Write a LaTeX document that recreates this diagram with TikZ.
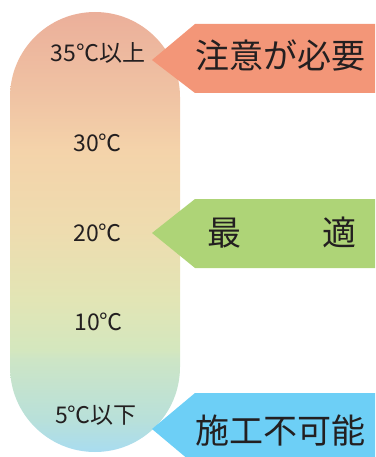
\documentclass[tikz,border=0pt]{standalone}
\usepackage{fontspec}
\newfontfamily\jp{Noto Sans CJK JP}
\definecolor{txt}{HTML}{231F20}
\definecolor{redb}{HTML}{F39678}
\definecolor{greenb}{HTML}{AED477}
\definecolor{blueb}{HTML}{6DCFF6}
\definecolor{c1}{HTML}{A8DCF0}
\definecolor{c2}{HTML}{B8E0DA}
\definecolor{c3}{HTML}{CDE5C6}
\definecolor{c4}{HTML}{D4E7BE}
\definecolor{c5}{HTML}{E2E5B5}
\definecolor{c6}{HTML}{EEDCAF}
\definecolor{c7}{HTML}{F4D3AA}
\definecolor{c8}{HTML}{F0C4A4}
\definecolor{c9}{HTML}{EBAF9A}
\pgfdeclareverticalshading{thermo}{100bp}{color(0bp)=(c1); color(25bp)=(c1); color(28.6bp)=(c2); color(35.5bp)=(c3); color(36.6bp)=(c4); color(42.3bp)=(c5); color(50.2bp)=(c6); color(59.3bp)=(c7); color(65bp)=(c8); color(75bp)=(c9); color(100bp)=(c9)}
\tikzset{
  templabel/.style={font=\jp\fontsize{23}{25}\selectfont, text=txt, inner sep=0pt, text height=19.1pt, text depth=1.6pt, anchor=center},
  bannertext/.style={font=\jp\fontsize{34}{36}\selectfont, text=txt, inner sep=0pt, text height=28.2pt, text depth=2.4pt, anchor=center}
}
\begin{document}
\begin{tikzpicture}[x=1pt,y=-1pt]
\useasboundingbox (0,0) rectangle (375,457);
% thermometer capsule
\shade[shading=thermo, rounded corners=85] (10,12) rectangle (180,452);
% banners
\fill[redb] (152,60) -- (195,24) -- (375,24) -- (375,93) -- (195,93) -- cycle;
\fill[greenb] (152,233) -- (195,199) -- (375,199) -- (375,268) -- (195,268) -- cycle;
\fill[blueb] (152,429) -- (195,393) -- (375,393) -- (375,457) -- (185.4,457) -- cycle;
% temperature labels
\node[templabel] (t35) at (98,53) {35℃以上};
\node[templabel] (t30) at (97.5,143) {30℃};
\node[templabel] (t20) at (97.5,233) {20℃};
\node[templabel] (t10) at (98.5,322) {10℃};
\node[templabel] (t5) at (96,415) {5℃以下};
% banner labels
\node[bannertext] (caution) at (280,56) {注意が必要};
\node[bannertext] (best1) at (224,233) {最};
\node[bannertext] (best2) at (339,233) {適};
\node[bannertext] (impossible) at (280,431) {施工不可能};
\end{tikzpicture}
\end{document}
